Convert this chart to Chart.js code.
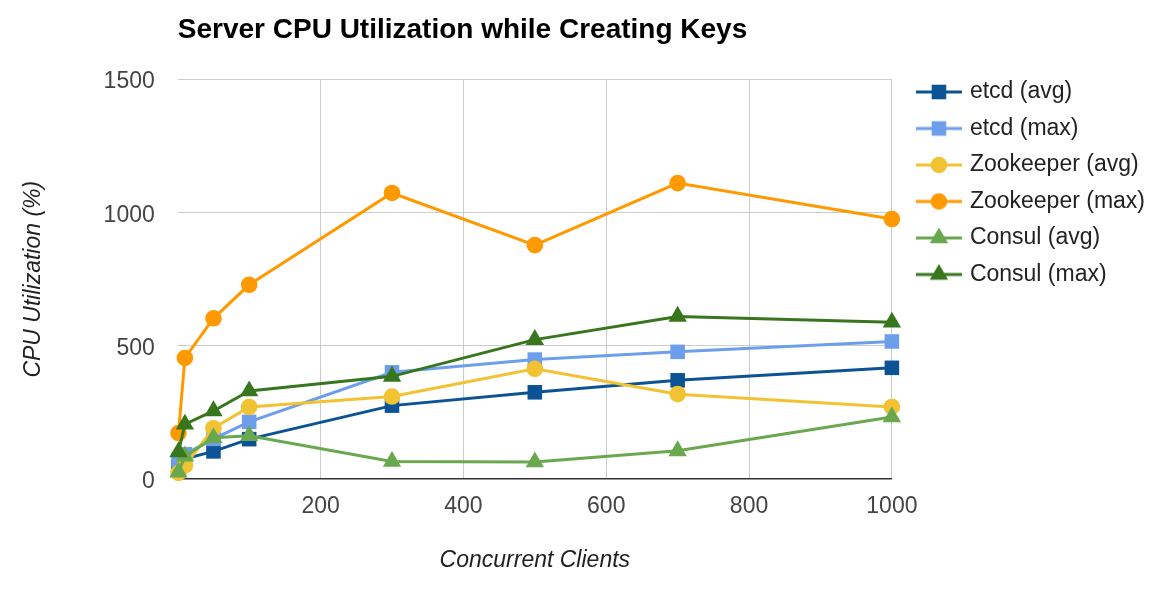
<!DOCTYPE html>
<html>
<head>
<meta charset="utf-8">
<script src="https://cdn.jsdelivr.net/npm/chart.js@4"></script>
<style>
  body { margin: 0; background: #fff; }
  canvas { display: block; }
</style>
</head>
<body>
<canvas id="chart" width="1174" height="593"></canvas>
<script>
// Data
const clients = [1, 10, 50, 100, 300, 500, 700, 1000];
const seriesNames = ["etcd (avg)", "etcd (max)", "Zookeeper (avg)", "Zookeeper (max)", "Consul (avg)", "Consul (max)"];
const etcdAvg = [45, 75, 103, 149, 275, 325, 370, 417];
const etcdMax = [72, 92, 150, 214, 400, 448, 477, 516];
const zkAvg = [22, 50, 190, 270, 309, 413, 318, 270];
const zkMax = [172, 454, 603, 729, 1074, 878, 1111, 976];
const consulAvg = [25, 85, 154, 162, 65, 63, 105, 232];
const consulMax = [101, 205, 255, 330, 385, 523, 610, 588];
const yTicks = [0, 500, 1000, 1500];
const xTicks = [200, 400, 600, 800, 1000];

const allValues = [etcdAvg, etcdMax, zkAvg, zkMax, consulAvg, consulMax];
const colors = ["#0b5394", "#6d9eeb", "#f1c232", "#ff9900", "#6aa84f", "#38761d"];
const markers = ["rect", "rect", "circle", "circle", "triangle", "triangle"];
const radii = { rect: 10.3, circle: 8.3, triangle: 10.6 };

const font = "'Liberation Sans', Arial, sans-serif";

// small canvas with line + marker, used as legend symbol
function legendSymbol(color, shape) {
  const c = document.createElement("canvas");
  c.width = 60;
  c.height = 26;
  const g = c.getContext("2d");
  g.strokeStyle = color;
  g.lineWidth = 3;
  g.beginPath();
  g.moveTo(14, 13);
  g.lineTo(60, 13);
  g.stroke();
  g.fillStyle = color;
  const cx = 37, cy = 13, r = radii[shape];
  g.beginPath();
  if (shape === "rect") {
    const s = r * Math.SQRT1_2;
    g.rect(cx - s, cy - s, 2 * s, 2 * s);
  } else if (shape === "circle") {
    g.arc(cx, cy, r, 0, Math.PI * 2);
  } else {
    g.moveTo(cx, cy - r);
    g.lineTo(cx + r * Math.sin(Math.PI * 2 / 3), cy + r / 2);
    g.lineTo(cx - r * Math.sin(Math.PI * 2 / 3), cy + r / 2);
    g.closePath();
  }
  g.fill();
  return c;
}

const datasets = seriesNames.map((name, i) => ({
  label: name,
  data: clients.map((x, j) => ({ x: x, y: allValues[i][j] })),
  borderColor: colors[i],
  backgroundColor: colors[i],
  borderWidth: 3,
  pointStyle: markers[i],
  pointRadius: radii[markers[i]],
  pointBorderWidth: 0,
  pointHoverRadius: radii[markers[i]],
  tension: 0,
  clip: false,
  order: seriesNames.length - i
}));

new Chart(document.getElementById("chart"), {
  type: "line",
  data: { datasets: datasets },
  options: {
    responsive: false,
    animation: false,
    layout: { padding: { left: 0, right: 19, top: 0, bottom: 0 } },
    plugins: {
      title: {
        display: true,
        text: "Server CPU Utilization while Creating Keys",
        align: "start",
        fullSize: false,
        color: "#000",
        font: { family: font, size: 28, weight: "bold" },
        padding: { top: 13, bottom: 33 }
      },
      legend: {
        position: "right",
        align: "start",
        title: { display: true, text: "", font: { size: 10 }, padding: { top: 55, bottom: 0 } },
        labels: {
          usePointStyle: true,
          pointStyleWidth: 53,
          padding: 13.5,
          color: "#222",
          font: { family: font, size: 23 },
          generateLabels: chart => chart.data.datasets.map((ds, i) => ({
            text: ds.label,
            pointStyle: legendSymbol(colors[i], markers[i]),
            fillStyle: colors[i],
            strokeStyle: colors[i],
            fontColor: "#222",
            lineWidth: 0,
            hidden: false,
            datasetIndex: i
          }))
        }
      },
      tooltip: { enabled: false }
    },
    scales: {
      x: {
        type: "linear",
        min: 0,
        max: 1000,
        afterBuildTicks: axis => { axis.ticks = [0].concat(xTicks).map(v => ({ value: v })); },
        ticks: {
          color: "#444",
          padding: 14,
          font: { family: font, size: 23 },
          callback: v => (xTicks.includes(v) ? String(v) : "")
        },
        grid: {
          drawTicks: false,
          color: c => (c.tick && c.tick.value === 0 ? "rgba(0,0,0,0)" : "#cccccc")
        },
        border: { display: true, color: "#333", width: 1.5 },
        title: {
          display: true,
          text: "Concurrent Clients",
          color: "#222",
          font: { family: font, size: 23, style: "italic" },
          padding: { top: 12, bottom: 19 }
        }
      },
      y: {
        type: "linear",
        min: 0,
        max: 1500,
        afterBuildTicks: axis => { axis.ticks = yTicks.map(v => ({ value: v })); },
        ticks: {
          color: "#444",
          padding: 23,
          labelOffset: 2.5,
          font: { family: font, size: 23 },
          callback: v => String(v)
        },
        grid: {
          drawTicks: false,
          color: c => (c.tick && c.tick.value === 0 ? "rgba(0,0,0,0)" : "#cccccc")
        },
        border: { display: false },
        title: {
          display: true,
          text: "CPU Utilization (%)",
          color: "#222",
          font: { family: font, size: 23, style: "italic" },
          padding: { top: 20, bottom: 33 }
        }
      }
    }
  }
});
</script>
</body>
</html>
